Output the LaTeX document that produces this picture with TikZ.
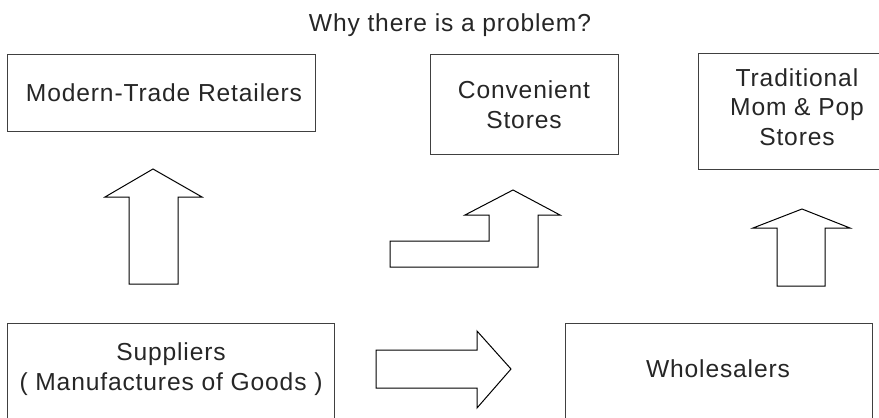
\documentclass[tikz,border=0pt]{standalone}
\usepackage{fontspec}
\setmainfont{Liberation Sans}[LetterSpace=3.5]
\usetikzlibrary{positioning}

\begin{document}
\begin{tikzpicture}[x=1pt,y=-1pt,
  box/.style={draw=black!75, line width=1.4pt, inner sep=0pt},
  boxtext/.style={font=\fontsize{24.6}{29.5}\selectfont, text=black!85, align=center, inner sep=0pt},
  block/.style={draw=black, line width=1pt, line join=miter}]
  \useasboundingbox (0,0) rectangle (879,418);

  % title
  \node[boxtext, anchor=base] (title) at (450,31) {Why there is a problem?};

  % top row of boxes
  \node[box, anchor=north west, minimum width=308, minimum height=77] (mtr) at (7,54) {};
  \node[boxtext, anchor=base] (mtrtext) at (164,101) {Modern-Trade Retailers};
  \node[box, anchor=north west, minimum width=188, minimum height=100] (conv) at (430,54) {};
  \node[boxtext, anchor=base] (convtext) at (524,128) {Convenient\\Stores};
  \node[box, anchor=north west, minimum width=198, minimum height=116] (trad) at (698,53) {};
  \node[boxtext, anchor=base] (tradtext) at (797,145) {Traditional\\Mom \& Pop\\Stores};

  % bottom row of boxes
  \node[box, anchor=north west, minimum width=327, minimum height=120] (sup) at (7,323) {};
  \node[boxtext, anchor=base] (suptext) at (171,390) {Suppliers\\( Manufactures of Goods )};
  \node[box, anchor=north west, minimum width=307, minimum height=120] (whol) at (565,323) {};
  \node[boxtext, anchor=base] (wholtext) at (718,377) {Wholesalers};

  % block arrows
  % suppliers -> modern trade
  \draw[block] (153,169) -- (202,197) -- (178,197) -- (178,284)
    -- (129,284) -- (129,197) -- (105,197) -- cycle;
  % suppliers -> convenient (step)
  \draw[block] (513,190) -- (560,215) -- (538,215) -- (538,267) -- (390,267)
    -- (390,241) -- (489,241) -- (489,215) -- (465,215) -- cycle;
  % suppliers -> wholesalers
  \draw[block] (376,350) -- (477,350) -- (477,331) -- (511,369) -- (477,408)
    -- (477,388) -- (376,388) -- cycle;
  % wholesalers -> mom & pop
  \draw[block] (802,209) -- (850,228) -- (825,228) -- (825,286)
    -- (777,286) -- (777,228) -- (753,228) -- cycle;
\end{tikzpicture}
\end{document}
